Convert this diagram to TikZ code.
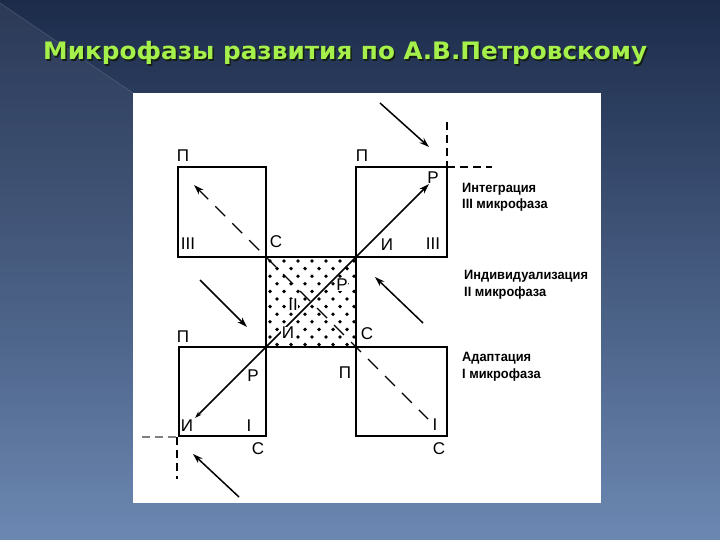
\documentclass[tikz,border=0pt]{standalone}
\usepackage{fontspec}
\setmainfont{Liberation Sans}
\newfontfamily\titlefont[FakeStretch=1.03]{DejaVu Sans}
\newfontfamily\condfont[FakeStretch=0.95]{Liberation Sans}
\usetikzlibrary{arrows.meta,fadings}
\definecolor{bgtop}{RGB}{28,43,74}
\definecolor{bgbot}{RGB}{108,136,178}
\definecolor{titlecol}{RGB}{165,240,75}
\definecolor{titleshadow}{RGB}{20,30,20}
\begin{document}
\begin{tikzpicture}[x=1pt,y=-1pt,
  box/.style={draw=black,line width=1.9pt},
  lbl/.style={font=\fontsize{17}{17}\selectfont,inner sep=0pt},
  side/.style={font=\condfont\bfseries\fontsize{13.5}{13.5}\selectfont,anchor=base west,inner sep=0pt},
  arr/.style={line width=1.5pt,-{Stealth[length=10pt,width=6.5pt]}},
  dsh/.style={line width=1.4pt,dash pattern=on 14pt off 10pt},
  cdash/.style={line width=1.6pt,dash pattern=on 8pt off 5pt}]
\useasboundingbox (0,0) rectangle (720,540);
\shade[top color=bgtop,bottom color=bgbot] (0,0) rectangle (720,540);
\fill[white,opacity=0.07,path fading=south] (0,3) -- (133,93) -- (133,360) -- (0,360) -- cycle;
\draw[white,opacity=0.15,line width=0.6pt] (0,3) -- (133,93);
\fill[white] (133,93) rectangle (601,503);
% title
\node[anchor=base west,inner sep=0pt,text=titleshadow,font=\titlefont\bfseries\fontsize{24}{24}\selectfont] (titleshadow) at (44.5,61.5) {Микрофазы развития по А.В.Петровскому};
\node[anchor=base west,inner sep=0pt,text=titlecol,font=\titlefont\bfseries\fontsize{24}{24}\selectfont] (title) at (43,60) {Микрофазы развития по А.В.Петровскому};
% dots in centre square
\begin{scope}
\clip (266,257) rectangle (356,347);
\foreach \j in {0,...,11}{\foreach \i in {0,...,6}{
  \fill ({270+mod(\j,2)*7+\i*14},{261+\j*7.6}) circle (1.9);}}
\end{scope}
% boxes
\draw[box] (178,167) rectangle (266,257);
\draw[box] (356,167) rectangle (447,257);
\draw[box] (266,257) rectangle (356,347);
\draw[box] (179,347) rectangle (266,436);
\draw[box] (356,347) rectangle (447,436);
% coordinates
\coordinate (s1) at (195,418);
\coordinate (e1) at (429,184);
\coordinate (d1) at (428,419);
\coordinate (d2) at (194,185);
\coordinate (ta) at (380,103); \coordinate (tb) at (429,147);
\coordinate (la) at (200,280); \coordinate (lb) at (247,327);
\coordinate (ra) at (423,323); \coordinate (rb) at (375,277);
\coordinate (ba) at (239,497); \coordinate (bb) at (193,454);
\coordinate (c1a) at (447,122); \coordinate (c1) at (447,167); \coordinate (c1b) at (492,167);
\coordinate (c2a) at (142,437); \coordinate (c2) at (177,437); \coordinate (c2b) at (177,479);
% connectors
\draw[line width=1.5pt,{Stealth[length=7pt,width=4.5pt]}-{Stealth[length=10pt,width=6.5pt]}] (s1) -- (e1);
\draw[dsh,{Stealth[length=10pt,width=6.5pt]}-] (d2) -- (d1);
\draw[arr] (ta) -- (tb);
\draw[arr] (la) -- (lb);
\draw[arr] (ra) -- (rb);
\draw[arr] (ba) -- (bb);
\draw[cdash] (c1a) -- (c1);
\draw[cdash] (c1) -- (c1b);
\draw[cdash,gray] (c2a) -- (c2);
\draw[cdash] (c2) -- (c2b);
% labels top-left
\node[lbl] (p1) at (183,156) {П};
\node[lbl] (t1) at (188,244) {III};
\node[lbl] (c1l) at (276,242) {С};
% top-right
\node[lbl] (p2) at (362,156) {П};
\node[lbl] (r2) at (433,178) {Р};
\node[lbl] (i2) at (387,245) {И};
\node[lbl] (t2) at (433,244) {III};
% centre
\node[lbl,fill=white,inner sep=0.5pt] (r3) at (342,285) {Р};
\node[lbl,fill=white,inner sep=0.5pt] (t3) at (293,305) {II};
\node[lbl,fill=white,inner sep=0.5pt] (i3) at (288,333) {И};
\node[lbl] (c3) at (367,334) {С};
% bottom-left
\node[lbl] (p4) at (183,337) {П};
\node[lbl] (r4) at (253,376) {Р};
\node[lbl] (i4) at (187,426) {И};
\node[lbl] (t4) at (249,426) {I};
\node[lbl] (c4) at (258,449) {С};
% bottom-right
\node[lbl] (p5) at (345,373) {П};
\node[lbl] (t5) at (435,425) {I};
\node[lbl] (c5) at (439,449) {С};
% side texts
\node[side] (s1a) at (462,192.5) {Интеграция};
\node[side] (s1b) at (462,208.5) {III микрофаза};
\node[side] (s2a) at (464,279.5) {Индивидуализация};
\node[side] (s2b) at (464,296.5) {II микрофаза};
\node[side] (s3a) at (462,361) {Адаптация};
\node[side] (s3b) at (462,378) {I микрофаза};
\end{tikzpicture}
\end{document}
